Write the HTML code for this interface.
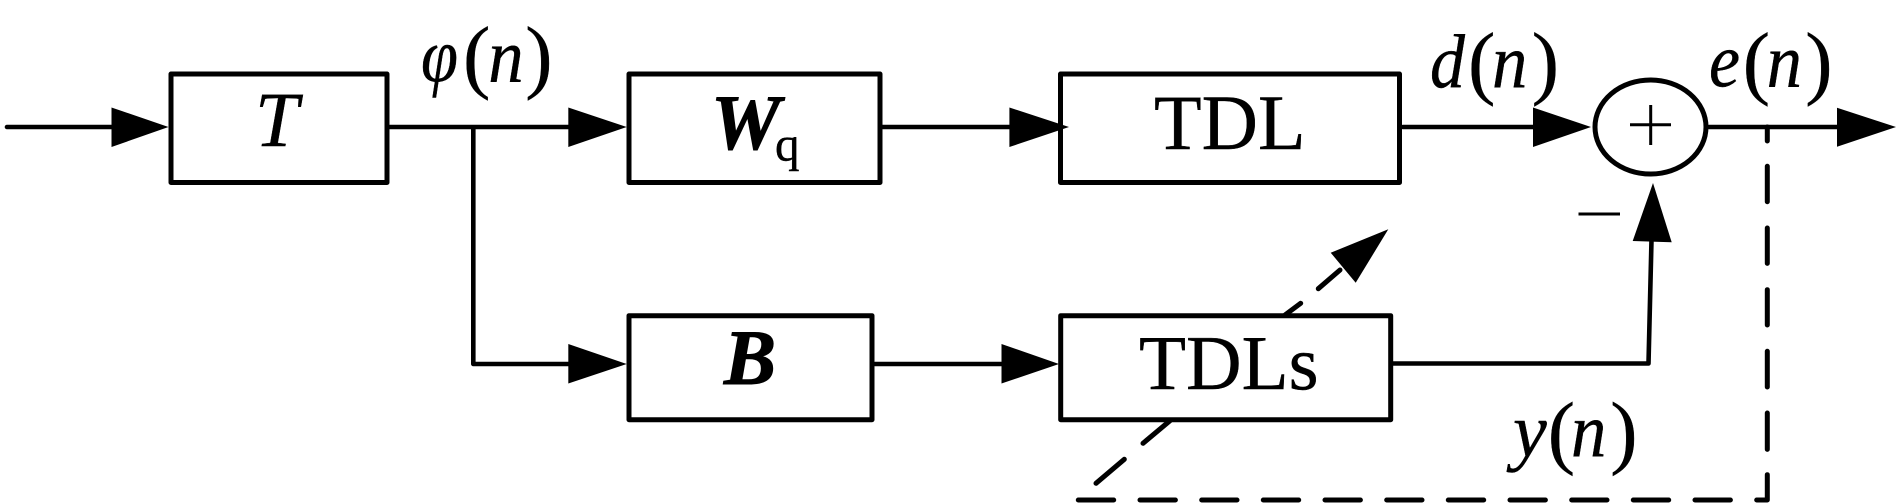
<!DOCTYPE html>
<html><head><meta charset="utf-8"><style>
html,body{margin:0;padding:0;background:#fff}
svg{display:block}
text{font-family:"Liberation Serif",serif;fill:#000;stroke:#000;stroke-width:.4}
.i{font-style:italic}
.b{font-weight:bold;font-style:italic;stroke-width:1}
</style></head><body>
<svg width="1902" height="503" viewBox="0 0 1902 503" xmlns="http://www.w3.org/2000/svg">
<rect width="1902" height="503" fill="#fff"/>
<g fill="none" stroke="#000" stroke-width="5" stroke-linecap="round" stroke-linejoin="round">
<path d="M1096 483.300L1124.300 459.300M1143 443.300L1170 420.700M1285 315L1300.700 303.300M1318.300 288.700L1340 270"/>
<path d="M1767.300 127V141M1767.300 166.300V201.700M1767.300 228V263.400M1767.300 289.700V325M1767.300 351.300V387M1767.300 413V449.400M1767.300 474.700V500H1756.700"/>
<path d="M1078.300 500H1113.700M1140 500H1175.400M1201.700 500H1237M1263.300 500H1298.700M1325 500H1360.400M1386.700 500H1422M1448.300 500H1483.700M1510 500H1545.400M1571.700 500H1607M1633.300 500H1668.700M1695 500H1730.400"/>
</g>
<g fill="#fff" stroke="#000" stroke-width="5" stroke-linejoin="round">
<rect x="171" y="74" width="216" height="108.500"/>
<rect x="629" y="74" width="251" height="108.500"/>
<rect x="1060.500" y="74" width="339" height="108.500"/>
<rect x="629" y="315.700" width="243" height="104"/>
<rect x="1060.700" y="315.700" width="330" height="104"/>
<ellipse cx="1650.500" cy="127" rx="55.500" ry="47"/>
</g>
<g fill="none" stroke="#000" stroke-width="4.600" stroke-linecap="round" stroke-linejoin="round">
<path d="M7 127H115M390 127H572M473.300 127V364H572M882 127H1013M1403 127H1537M1709 127H1841M875 364H1005M1393 363.500H1648.500L1651.500 240"/>
</g>
<path d="M1630 124.700H1671M1650.700 105V145" stroke="#000" stroke-width="3" fill="none"/>
<path d="M1578.500 214H1620" stroke="#000" stroke-width="3" fill="none"/>
<g fill="#000">
<path d="M111.500 107.500L168.500 127L111.500 147Z"/>
<path d="M568.300 107.500L626.700 127L568.300 147Z"/>
<path d="M568.300 344L626.700 364L568.300 383.500Z"/>
<path d="M1009.400 107.500L1069 127L1009.400 147Z"/>
<path d="M1001.500 344L1059 364L1001.500 383.500Z"/>
<path d="M1533 107.500L1591 127L1533 147Z"/>
<path d="M1837 107.700L1896 127L1837 146.700Z"/>
<path d="M1653 183L1632.700 241L1671.700 242.300Z"/>
<path d="M1388.300 229.300L1330.700 252.700L1355.700 282.700Z"/>
</g>
<text class="i" x="255" y="146" font-size="78">T</text>
<text class="b" x="711" y="149" font-size="78">W</text>
<text x="775" y="160.400" font-size="49">q</text>
<text class="b" x="724" y="384" font-size="78">B</text>
<text x="1154" y="149" font-size="78">TDL</text>
<text x="1139" y="389" font-size="77">TDLs</text>

<text class="i" transform="translate(421,81) scale(.88,1)" font-size="76">φ</text>
<text x="463" y="83" font-size="82">(</text>
<text class="i" transform="translate(488.300,81.500) scale(.93,1)" font-size="76">n</text>
<text x="525.300" y="83" font-size="82">)</text>

<text class="i" transform="translate(1430,87) scale(.92,1)" font-size="76">d</text>
<text x="1468" y="89" font-size="82">(</text>
<text class="i" transform="translate(1492,87) scale(.93,1)" font-size="76">n</text>
<text x="1531.800" y="89" font-size="82">)</text>

<text class="i" transform="translate(1709,86.700) scale(.92,1)" font-size="76">e</text>
<text x="1742.700" y="89" font-size="82">(</text>
<text class="i" transform="translate(1766.600,86.700) scale(.93,1)" font-size="76">n</text>
<text x="1805.300" y="89" font-size="82">)</text>

<text class="i" x="1513" y="456" font-size="76">y</text>
<text x="1547.700" y="458.300" font-size="82">(</text>
<text class="i" transform="translate(1571,456) scale(.93,1)" font-size="76">n</text>
<text x="1610.300" y="458.300" font-size="82">)</text>
</svg>
</body></html>
